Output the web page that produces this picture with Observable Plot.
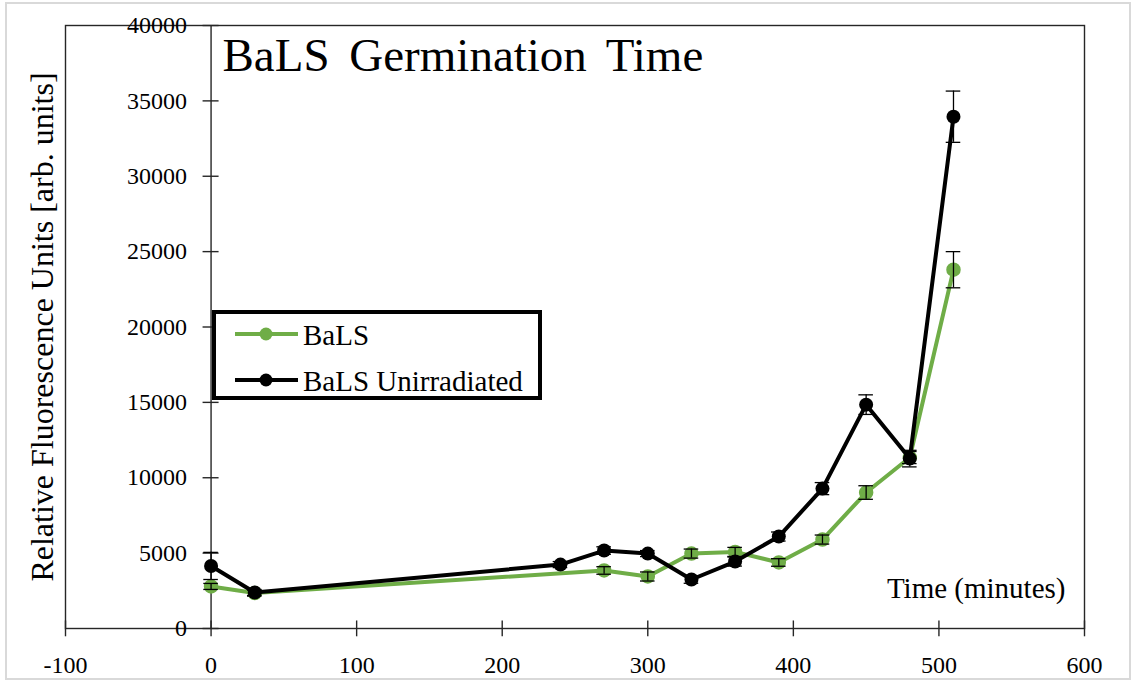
<!DOCTYPE html>
<html>
<head>
<meta charset="utf-8">
<script src="https://cdn.jsdelivr.net/npm/d3@7"></script>
<script src="https://cdn.jsdelivr.net/npm/@observablehq/plot@0.6"></script>
<style>
  html, body { margin: 0; padding: 0; background: #fff; }
  #wrap { position: relative; width: 1136px; height: 685px; overflow: hidden; }
  #border { position: absolute; left: 5px; top: 2px; width: 1126px; height: 678px; border: 2px solid #d9d9d9; box-sizing: border-box; pointer-events: none; }
  #legend { position: absolute; left: 212px; top: 310px; }
  #chart svg, #chart svg text, #legend svg text { font-family: 'Liberation Serif', 'Times New Roman', serif !important; }
</style>
</head>
<body>
<div id="wrap">
  <div id="chart"></div>
  <div id="legend"></div>
  <div id="border"></div>
</div>
<script>
const serif = "Liberation Serif";

// Series data (time in minutes, fluorescence, error)
const balsTime = [0, 30, 270, 300, 330, 360, 390, 420, 450, 480, 510];
const balsValue = [2790, 2350, 3850, 3450, 4970, 5080, 4380, 5900, 9020, 11340, 23800];
const balsErr = [200, 200, 250, 300, 300, 300, 250, 300, 450, 400, 1200];

const unirrTime = [0, 30, 240, 270, 300, 330, 360, 390, 420, 450, 480, 510];
const unirrValue = [4150, 2390, 4240, 5170, 4970, 3250, 4440, 6100, 9280, 14850, 11270, 33950];
const unirrErr = [900, 200, 200, 250, 200, 250, 300, 300, 400, 650, 550, 1700];

const xTicks = [-100, 0, 100, 200, 300, 400, 500, 600];
const yTicks = [0, 5000, 10000, 15000, 20000, 25000, 30000, 35000, 40000];

const seriesNames = ["BaLS", "BaLS Unirradiated"];
const seriesColors = ["#6fad47", "#000000"];
const titleText = "BaLS Germination Time";

const bals = balsTime.map((t, i) => ({t, v: balsValue[i], e: balsErr[i]}));
const unirr = unirrTime.map((t, i) => ({t, v: unirrValue[i], e: unirrErr[i]}));

function errorMarks(data) {
  return [
    Plot.ruleX(data, {x: "t", y1: d => d.v - d.e, y2: d => d.v + d.e, stroke: "#000", strokeWidth: 1.3}),
    Plot.ruleY(data, {y: d => d.v + d.e, x1: d => d.t - 5, x2: d => d.t + 5, stroke: "#000", strokeWidth: 1.3}),
    Plot.ruleY(data, {y: d => d.v - d.e, x1: d => d.t - 5, x2: d => d.t + 5, stroke: "#000", strokeWidth: 1.3})
  ];
}

const chart = Plot.plot({
  width: 1136,
  height: 685,
  marginLeft: 65,
  marginRight: 52,
  marginTop: 25,
  marginBottom: 57,
  style: {fontFamily: "'Liberation Serif', serif", background: "transparent", overflow: "visible"},
  x: {domain: [-100, 600], axis: null},
  y: {domain: [0, 40000], axis: null},
  marks: [
    Plot.frame({stroke: "#262626", strokeWidth: 1.4}),
    // y axis crossing at x = 0
    Plot.ruleX([0], {y1: 0, y2: 40000, stroke: "#262626", strokeWidth: 1.4}),
    Plot.ruleY(yTicks, {x1: -5.5, x2: 5.5, stroke: "#262626", strokeWidth: 1.4}),
    Plot.ruleX(xTicks, {y1: -550, y2: 500, stroke: "#262626", strokeWidth: 1.4}),
    Plot.text(yTicks, {x: 0, y: d => d, text: d => String(d), dx: -24, textAnchor: "end", lineAnchor: "middle", fontSize: 24, fontFamily: serif, fill: "#000"}),
    Plot.text(xTicks, {x: d => d, y: 0, text: d => String(d), dy: 44, textAnchor: "middle", lineAnchor: "bottom", fontSize: 24, fontFamily: serif, fill: "#000"}),
    // BaLS
    Plot.line(bals, {x: "t", y: "v", stroke: seriesColors[0], strokeWidth: 4}),
    Plot.dot(bals, {x: "t", y: "v", r: 6.5, fill: seriesColors[0], stroke: seriesColors[0]}),
    ...errorMarks(bals),
    // BaLS Unirradiated
    Plot.line(unirr, {x: "t", y: "v", stroke: seriesColors[1], strokeWidth: 4}),
    ...errorMarks(unirr),
    Plot.dot(unirr, {x: "t", y: "v", r: 7, fill: seriesColors[1]}),
    // titles
    Plot.text([titleText], {frameAnchor: "top-left", dx: 157, dy: 45, textAnchor: "start", lineAnchor: "bottom", fontSize: 47, fontFamily: serif, fill: "#000"}),
    Plot.text(["Relative Fluorescence Units [arb. units]"], {frameAnchor: "left", dx: -23, rotate: -90, textAnchor: "middle", lineAnchor: "middle", fontSize: 32, fontFamily: serif, fill: "#000"}),
    Plot.text(["Time (minutes)"], {frameAnchor: "bottom-right", dx: -19, dy: -31, textAnchor: "end", lineAnchor: "bottom", fontSize: 29, fontFamily: serif, fill: "#000"})
  ]
});
document.getElementById("chart").appendChild(chart);
d3.select(chart).selectAll("text").filter(function() { return this.textContent === titleText; })
  .style("word-spacing", "8px");

// Legend
const lg = d3.select("#legend").append("svg").attr("width", 332).attr("height", 92);
lg.append("rect").attr("x", 2).attr("y", 2).attr("width", 326).attr("height", 86)
  .attr("fill", "#fff").attr("stroke", "#000").attr("stroke-width", 4);
seriesNames.forEach((name, i) => {
  const cy = 24 + i * 46;
  lg.append("line").attr("x1", 23).attr("x2", 86).attr("y1", cy).attr("y2", cy)
    .attr("stroke", seriesColors[i]).attr("stroke-width", 4);
  lg.append("circle").attr("cx", 54).attr("cy", cy).attr("r", 6.5).attr("fill", seriesColors[i]);
  lg.append("text").attr("x", 91).attr("y", cy + 11).text(name)
    .attr("font-size", 29).attr("fill", "#000");
});
</script>
</body>
</html>
